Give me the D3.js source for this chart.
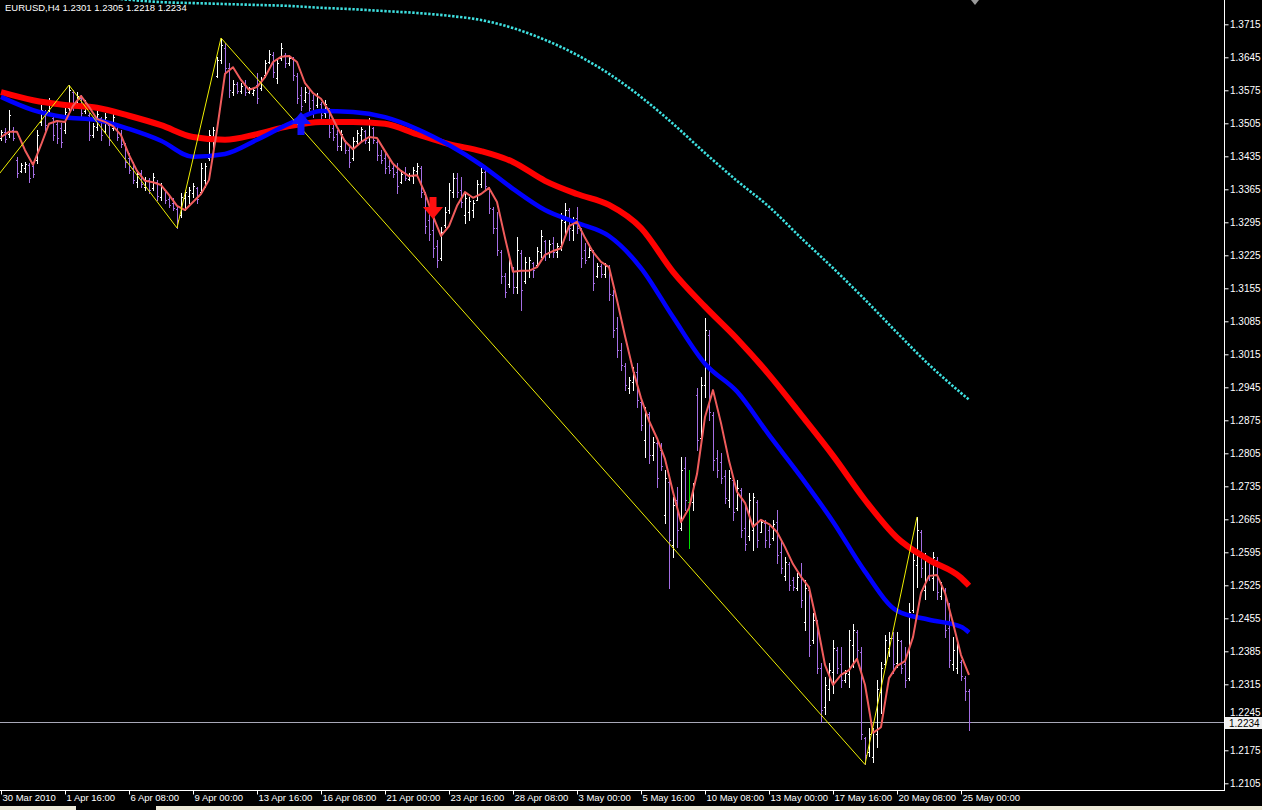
<!DOCTYPE html>
<html><head><meta charset="utf-8">
<script src="https://cdn.jsdelivr.net/npm/d3@7"></script>
<style>
html,body{margin:0;padding:0;background:#000;overflow:hidden}
svg{display:block}
text{font-family:"Liberation Sans",Arial,sans-serif;font-size:10px}
</style></head><body>
<svg id="c" width="1262" height="810"></svg>
<script>
// ---------- data ----------
const titleText = "EURUSD,H4  1.2301 1.2305 1.2218 1.2234";
const dateLabels = ["30 Mar 2010","1 Apr 16:00","6 Apr 08:00","9 Apr 00:00","13 Apr 16:00","16 Apr 08:00","21 Apr 00:00","23 Apr 16:00","28 Apr 08:00","3 May 00:00","5 May 16:00","10 May 08:00","13 May 00:00","17 May 16:00","20 May 08:00","25 May 00:00"];
const dateLabelBars = [0,16,32,48,64,80,96,112,128,144,160,176,192,208,224,240];
const priceTicks = [1.2105,1.2175,1.2245,1.2315,1.2385,1.2455,1.2525,1.2595,1.2665,1.2735,1.2805,1.2875,1.2945,1.3015,1.3085,1.3155,1.3225,1.3295,1.3365,1.3435,1.3505,1.3575,1.3645,1.3715];
const lastPrice = 1.2234;

const open = [
1.3474,1.3487,1.3482,1.3491,1.3427,1.3404,1.3410,1.3417,1.3415,1.3427,
1.3508,1.3529,1.3533,1.3516,1.3504,1.3495,1.3491,1.3538,1.3571,1.3544,
1.3559,1.3531,1.3523,1.3480,1.3497,1.3516,1.3489,1.3501,1.3495,1.3504,
1.3480,1.3459,1.3432,1.3410,1.3381,1.3400,1.3370,1.3385,1.3368,1.3381,
1.3349,1.3364,1.3345,1.3336,1.3323,1.3311,1.3347,1.3351,1.3357,1.3368,
1.3359,1.3385,1.3432,1.3470,1.3605,1.3639,1.3665,1.3622,1.3571,1.3588,
1.3574,1.3586,1.3571,1.3569,1.3586,1.3580,1.3607,1.3635,1.3650,1.3601,
1.3644,1.3650,1.3633,1.3641,1.3605,1.3565,1.3554,1.3569,1.3554,1.3544,
1.3546,1.3527,1.3538,1.3495,1.3482,1.3457,1.3468,1.3448,1.3432,1.3468,
1.3480,1.3489,1.3465,1.3495,1.3465,1.3438,1.3432,1.3415,1.3410,1.3402,
1.3381,1.3402,1.3387,1.3393,1.3404,1.3410,1.3355,1.3300,1.3279,1.3245,
1.3220,1.3290,1.3321,1.3359,1.3389,1.3364,1.3311,1.3317,1.3321,1.3342,
1.3376,1.3402,1.3368,1.3323,1.3283,1.3232,1.3181,1.3164,1.3198,1.3158,
1.3230,1.3171,1.3194,1.3209,1.3205,1.3232,1.3256,1.3232,1.3251,1.3232,
1.3245,1.3296,1.3321,1.3279,1.3304,1.3279,1.3236,1.3222,1.3232,1.3181,
1.3203,1.3186,1.3200,1.3141,1.3071,1.3025,1.2991,1.2944,1.2957,1.2978,
1.2914,1.2834,1.2889,1.2802,1.2827,1.2812,1.2675,1.2745,1.2611,1.2706,
1.2647,1.2774,1.2702,1.2702,1.2929,1.2838,1.2950,1.3056,1.2887,1.2796,
1.2787,1.2757,1.2706,1.2749,1.2690,1.2728,1.2647,1.2630,1.2643,1.2702,
1.2639,1.2658,1.2643,1.2626,1.2660,1.2596,1.2545,1.2571,1.2537,1.2520,
1.2547,1.2448,1.2516,1.2410,1.2446,1.2350,1.2266,1.2304,1.2342,1.2388,
1.2357,1.2325,1.2336,1.2399,1.2427,1.2384,1.2202,1.2172,1.2160,1.2209,
1.2299,1.2357,1.2393,1.2414,1.2361,1.2406,1.2357,1.2329,1.2473,1.2569,
1.2639,1.2516,1.2579,1.2541,1.2579,1.2503,1.2516,1.2435,1.2357,1.2350,
1.2363,1.2329,1.2301];
const high = [
1.3491,1.3495,1.3533,1.3497,1.3434,1.3421,1.3423,1.3421,1.3423,1.3491,
1.3544,1.3533,1.3559,1.3523,1.3512,1.3506,1.3540,1.3586,1.3576,1.3571,
1.3565,1.3554,1.3527,1.3506,1.3533,1.3518,1.3527,1.3506,1.3527,1.3506,
1.3491,1.3463,1.3442,1.3423,1.3406,1.3406,1.3391,1.3389,1.3400,1.3385,
1.3379,1.3364,1.3353,1.3347,1.3328,1.3357,1.3364,1.3370,1.3379,1.3370,
1.3421,1.3421,1.3491,1.3497,1.3646,1.3686,1.3675,1.3633,1.3597,1.3593,
1.3591,1.3597,1.3582,1.3580,1.3612,1.3603,1.3639,1.3660,1.3656,1.3639,
1.3675,1.3654,1.3650,1.3646,1.3612,1.3582,1.3582,1.3576,1.3565,1.3569,
1.3550,1.3554,1.3538,1.3506,1.3491,1.3491,1.3470,1.3455,1.3476,1.3491,
1.3497,1.3491,1.3516,1.3497,1.3470,1.3448,1.3442,1.3427,1.3421,1.3421,
1.3406,1.3412,1.3400,1.3412,1.3421,1.3415,1.3359,1.3315,1.3306,1.3258,
1.3285,1.3328,1.3379,1.3400,1.3400,1.3391,1.3357,1.3349,1.3342,1.3385,
1.3410,1.3406,1.3370,1.3328,1.3317,1.3236,1.3188,1.3222,1.3200,1.3264,
1.3236,1.3222,1.3222,1.3211,1.3243,1.3279,1.3258,1.3258,1.3264,1.3251,
1.3315,1.3336,1.3326,1.3306,1.3328,1.3283,1.3251,1.3243,1.3236,1.3209,
1.3207,1.3209,1.3205,1.3152,1.3094,1.3039,1.2997,1.2967,1.2989,1.2997,
1.2919,1.2904,1.2893,1.2840,1.2834,1.2827,1.2770,1.2753,1.2713,1.2734,
1.2798,1.2798,1.2770,1.2743,1.2944,1.2967,1.3092,1.3067,1.2893,1.2812,
1.2806,1.2770,1.2770,1.2753,1.2749,1.2732,1.2700,1.2721,1.2721,1.2706,
1.2664,1.2664,1.2650,1.2664,1.2685,1.2622,1.2586,1.2575,1.2543,1.2552,
1.2573,1.2537,1.2520,1.2467,1.2452,1.2361,1.2331,1.2361,1.2410,1.2395,
1.2395,1.2346,1.2431,1.2442,1.2431,1.2395,1.2204,1.2223,1.2223,1.2325,
1.2363,1.2420,1.2425,1.2425,1.2425,1.2410,1.2395,1.2488,1.2594,1.2670,
1.2643,1.2594,1.2586,1.2596,1.2584,1.2531,1.2520,1.2488,1.2416,1.2410,
1.2367,1.2333,1.2305];
const low = [
1.3470,1.3465,1.3476,1.3470,1.3391,1.3402,1.3402,1.3381,1.3391,1.3421,
1.3501,1.3491,1.3527,1.3470,1.3463,1.3455,1.3485,1.3533,1.3533,1.3540,
1.3518,1.3527,1.3470,1.3476,1.3491,1.3470,1.3485,1.3459,1.3491,1.3470,
1.3455,1.3412,1.3400,1.3379,1.3370,1.3370,1.3364,1.3357,1.3364,1.3342,
1.3342,1.3336,1.3328,1.3321,1.3283,1.3306,1.3321,1.3336,1.3349,1.3336,
1.3357,1.3370,1.3427,1.3449,1.3603,1.3633,1.3612,1.3561,1.3565,1.3569,
1.3569,1.3565,1.3569,1.3565,1.3548,1.3576,1.3603,1.3633,1.3603,1.3591,
1.3639,1.3624,1.3629,1.3597,1.3548,1.3533,1.3550,1.3527,1.3518,1.3540,
1.3512,1.3518,1.3476,1.3470,1.3448,1.3448,1.3442,1.3412,1.3427,1.3463,
1.3470,1.3463,1.3448,1.3463,1.3427,1.3421,1.3400,1.3400,1.3391,1.3357,
1.3379,1.3385,1.3385,1.3379,1.3391,1.3349,1.3273,1.3258,1.3222,1.3200,
1.3215,1.3285,1.3315,1.3349,1.3349,1.3328,1.3294,1.3300,1.3306,1.3342,
1.3370,1.3364,1.3315,1.3273,1.3226,1.3167,1.3137,1.3158,1.3145,1.3145,
1.3109,1.3167,1.3179,1.3179,1.3200,1.3222,1.3215,1.3222,1.3222,1.3222,
1.3236,1.3273,1.3258,1.3258,1.3273,1.3200,1.3209,1.3222,1.3152,1.3179,
1.3179,1.3179,1.3131,1.3052,1.3010,1.2982,1.2940,1.2933,1.2940,1.2904,
1.2855,1.2798,1.2785,1.2791,1.2734,1.2770,1.2658,1.2520,1.2586,1.2607,
1.2643,1.2685,1.2605,1.2685,1.2812,1.2834,1.2925,1.2876,1.2770,1.2755,
1.2743,1.2700,1.2692,1.2664,1.2685,1.2628,1.2600,1.2622,1.2600,1.2607,
1.2637,1.2607,1.2607,1.2622,1.2573,1.2552,1.2537,1.2516,1.2516,1.2516,
1.2480,1.2431,1.2374,1.2403,1.2340,1.2234,1.2251,1.2282,1.2297,1.2340,
1.2310,1.2319,1.2310,1.2352,1.2367,1.2198,1.2145,1.2162,1.2151,1.2183,
1.2255,1.2352,1.2374,1.2340,1.2352,1.2340,1.2310,1.2325,1.2469,1.2522,
1.2543,1.2495,1.2537,1.2516,1.2495,1.2495,1.2416,1.2352,1.2346,1.2340,
1.2325,1.2282,1.2218];
const close = [
1.3487,1.3472,1.3523,1.3474,1.3400,1.3417,1.3419,1.3389,1.3398,1.3480,
1.3533,1.3501,1.3552,1.3480,1.3474,1.3465,1.3529,1.3576,1.3542,1.3563,
1.3527,1.3548,1.3480,1.3499,1.3525,1.3480,1.3518,1.3470,1.3518,1.3476,
1.3461,1.3423,1.3406,1.3385,1.3398,1.3376,1.3385,1.3364,1.3391,1.3351,
1.3370,1.3342,1.3332,1.3326,1.3300,1.3349,1.3359,1.3364,1.3372,1.3345,
1.3410,1.3415,1.3480,1.3491,1.3639,1.3671,1.3622,1.3576,1.3588,1.3574,
1.3584,1.3571,1.3580,1.3576,1.3559,1.3597,1.3633,1.3652,1.3614,1.3633,
1.3665,1.3633,1.3644,1.3607,1.3559,1.3542,1.3571,1.3538,1.3529,1.3561,
1.3523,1.3546,1.3487,1.3476,1.3457,1.3482,1.3448,1.3423,1.3468,1.3485,
1.3493,1.3470,1.3504,1.3470,1.3438,1.3427,1.3410,1.3406,1.3398,1.3372,
1.3398,1.3389,1.3395,1.3406,1.3415,1.3359,1.3287,1.3270,1.3241,1.3215,
1.3275,1.3317,1.3364,1.3389,1.3359,1.3338,1.3347,1.3340,1.3336,1.3376,
1.3402,1.3372,1.3326,1.3283,1.3236,1.3181,1.3147,1.3209,1.3158,1.3236,
1.3152,1.3211,1.3215,1.3194,1.3234,1.3266,1.3230,1.3249,1.3232,1.3245,
1.3300,1.3321,1.3283,1.3300,1.3283,1.3220,1.3215,1.3236,1.3167,1.3203,
1.3186,1.3203,1.3143,1.3067,1.3025,1.2993,1.2950,1.2961,1.2978,1.2919,
1.2866,1.2893,1.2802,1.2829,1.2753,1.2779,1.2753,1.2622,1.2696,1.2643,
1.2770,1.2706,1.2702,1.2736,1.2834,1.2950,1.3067,1.2893,1.2791,1.2770,
1.2753,1.2711,1.2753,1.2681,1.2732,1.2643,1.2613,1.2706,1.2713,1.2622,
1.2660,1.2622,1.2613,1.2656,1.2590,1.2562,1.2575,1.2526,1.2522,1.2543,
1.2494,1.2520,1.2399,1.2452,1.2350,1.2261,1.2314,1.2346,1.2393,1.2350,
1.2325,1.2340,1.2410,1.2431,1.2388,1.2209,1.2166,1.2209,1.2215,1.2304,
1.2350,1.2410,1.2414,1.2357,1.2410,1.2350,1.2325,1.2469,1.2579,1.2643,
1.2562,1.2579,1.2547,1.2584,1.2511,1.2520,1.2431,1.2367,1.2388,1.2397,
1.2333,1.2301,1.2234];

// short moving average (salmon), one value every 2 bars
const maFast = [
1.3476,1.3487,1.3487,1.3448,1.3417,1.3459,1.3504,1.3510,1.3508,1.3542,
1.3563,1.3540,1.3514,1.3508,1.3499,1.3480,1.3438,1.3404,1.3383,1.3380,
1.3374,1.3353,1.3330,1.3321,1.3338,1.3355,1.3385,1.3491,1.3610,1.3624,
1.3597,1.3576,1.3582,1.3603,1.3635,1.3646,1.3648,1.3635,1.3590,1.3569,
1.3557,1.3531,1.3497,1.3467,1.3450,1.3465,1.3476,1.3474,1.3446,1.3419,
1.3404,1.3393,1.3395,1.3357,1.3308,1.3266,1.3287,1.3330,1.3359,1.3347,
1.3355,1.3368,1.3338,1.3262,1.3190,1.3192,1.3192,1.3200,1.3226,1.3234,
1.3240,1.3287,1.3296,1.3262,1.3232,1.3211,1.3200,1.3130,1.3054,1.2982,
1.2922,1.2874,1.2837,1.2793,1.2723,1.2659,1.2689,1.2761,1.2882,1.2939,
1.2869,1.2789,1.2723,1.2700,1.2649,1.2664,1.2655,1.2638,1.2606,1.2570,
1.2543,1.2521,1.2445,1.2356,1.2314,1.2335,1.2345,1.2369,1.2314,1.2212,
1.2224,1.2328,1.2354,1.2364,1.2415,1.2509,1.2545,1.2547,1.2509,1.2445,
1.2377,1.2335];
// long moving averages, one value every 8 bars plus the last bar
const maRed = [1.3571,1.3554,1.3544,1.3538,1.3521,1.3501,1.3476,1.3470,1.3482,1.3499,1.3508,1.3508,1.3504,1.3482,1.3461,1.3446,1.3423,1.3383,1.3355,1.3332,1.3283,1.3190,1.3116,1.3048,1.2972,1.2887,1.2800,1.2706,1.2626,1.2579,1.2541,1.2524];
const maBlue = [1.3561,1.3533,1.3518,1.3512,1.3493,1.3468,1.3434,1.3440,1.3470,1.3504,1.3531,1.3529,1.3518,1.3493,1.3459,1.3417,1.3366,1.3321,1.3294,1.3266,1.3198,1.3094,1.2995,1.2936,1.2844,1.2755,1.2660,1.2554,1.2471,1.2452,1.2437,1.2425];
const maCyan = [1.3788,1.3781,1.3777,1.3773,1.3767,1.3762,1.3760,1.3758,1.3756,1.3754,1.3750,1.3747,1.3743,1.3739,1.3733,1.3724,1.3707,1.3682,1.3650,1.3610,1.3561,1.3504,1.3442,1.3383,1.3328,1.3262,1.3198,1.3131,1.3061,1.2993,1.2933,1.2919];
const zigzagBars = [-8,17,44,55,216,229];
const zigzagPrices = [1.3316,1.3586,1.3283,1.3686,1.2145,1.2670];
const downArrowBars = [108];
const upArrowBars = [75];

// ---------- drawing ----------
const svg = d3.select("#c");
const plotR = 1224, plotB = 790;
const nBars = close.length;
const x = d3.scaleLinear().domain([0, 242]).range([1, 969]);
const y = d3.scaleLinear().domain([1.2105, 1.3715]).range([783.3, 24.3]);

svg.append("rect").attr("width",1262).attr("height",810).attr("fill","#000");
svg.append("defs").append("clipPath").attr("id","plot")
  .append("rect").attr("x",0).attr("y",0).attr("width",plotR).attr("height",plotB);
const g = svg.append("g").attr("clip-path","url(#plot)");

// bid line
g.append("line").attr("x1",0).attr("x2",plotR)
  .attr("y1",Math.round(y(lastPrice))+0.5).attr("y2",Math.round(y(lastPrice))+0.5)
  .attr("stroke","#a8a8b8").attr("stroke-width",1);

// bars
const bars = d3.range(nBars).map(i => ({i, o:open[i], h:high[i], l:low[i], c:close[i]}));
const barColor = d => d.c > d.o ? "#ffffff" : (d.c < d.o ? "#a46ee4" : "#00e000");
const bg = g.append("g");
bars.forEach(d => {
  const bx = Math.round(x(d.i));
  const col = barColor(d);
  const yh = Math.round(y(d.h)), yl = Math.round(y(d.l));
  bg.append("rect").attr("x",bx).attr("y",yh).attr("width",1).attr("height",Math.max(1,yl-yh+1)).attr("fill",col);
  bg.append("rect").attr("x",bx-1).attr("y",Math.round(y(d.o))).attr("width",1).attr("height",1).attr("fill",col);
  bg.append("rect").attr("x",bx+1).attr("y",Math.round(y(d.c))).attr("width",1).attr("height",1).attr("fill",col);
});

const maBars = d3.range(0, 241, 8).concat([242]);
const line = d3.line().x(d => x(d[0])).y(d => y(d[1]));

// cyan dotted MA
g.append("path").datum(maBars.map((b,k)=>[b, maCyan[k]]))
  .attr("d", line.curve(d3.curveMonotoneX)).attr("fill","none")
  .attr("stroke","#3ee0e0").attr("stroke-width",2.6).attr("stroke-dasharray","2.4,1.6");
// red MA
g.append("path").datum(maBars.map((b,k)=>[b, maRed[k]]))
  .attr("d", line.curve(d3.curveMonotoneX)).attr("fill","none")
  .attr("stroke","#ff0000").attr("stroke-width",6).attr("stroke-linejoin","round");
// blue MA
g.append("path").datum(maBars.map((b,k)=>[b, maBlue[k]]))
  .attr("d", line.curve(d3.curveMonotoneX)).attr("fill","none")
  .attr("stroke","#0000ff").attr("stroke-width",4.5).attr("stroke-linejoin","round");
// fast MA
const fastBars = d3.range(0, 243, 2);
g.append("path").datum(fastBars.map((b,k)=>[b, maFast[k]]))
  .attr("d", line.curve(d3.curveLinear)).attr("fill","none")
  .attr("stroke","#f05c5c").attr("stroke-width",2).attr("stroke-linejoin","round");
// zigzag
g.append("path").datum(zigzagBars.map((b,k)=>[b, zigzagPrices[k]]))
  .attr("d", line.curve(d3.curveLinear)).attr("fill","none")
  .attr("stroke","#f0f000").attr("stroke-width",1);

// arrows
downArrowBars.forEach(b => {
  const tx = x(b), ty = y(high[b]) + 2;
  g.append("path").attr("fill","#ff1010")
   .attr("d",`M${tx-3.5},${ty-22} H${tx+3.5} V${ty-12} H${tx+10} L${tx},${ty} L${tx-10},${ty-12} H${tx-3.5} Z`);
});
upArrowBars.forEach(b => {
  const tx = x(b), ty = y(low[b]) + 2;
  g.append("path").attr("fill","#1010ff")
   .attr("d",`M${tx-3.5},${ty+23} H${tx+3.5} V${ty+12} H${tx+10} L${tx},${ty} L${tx-10},${ty+12} H${tx-3.5} Z`);
});

// frame
svg.append("line").attr("x1",plotR+0.5).attr("x2",plotR+0.5).attr("y1",0).attr("y2",plotB+1).attr("stroke","#fff");
svg.append("line").attr("x1",0).attr("x2",plotR+1).attr("y1",plotB+0.5).attr("y2",plotB+0.5).attr("stroke","#fff");

// right price axis
const ay = svg.append("g").attr("transform",`translate(${plotR+0.5},0)`)
  .call(d3.axisRight(y).tickValues(priceTicks).tickFormat(d3.format(".4f")).tickSize(4).tickPadding(1.5));
ay.select(".domain").remove();
ay.selectAll("line").attr("stroke","#fff");
ay.selectAll("text").attr("fill","#fff").style("font-size","10px");
// label partly hidden by the last-price box: lift it so it only touches the box
ay.selectAll(".tick").filter(d => Math.abs(d - 1.2245) < 1e-6).select("text").attr("dy","-0.2em");

// bottom time axis
const ax = svg.append("g").attr("transform",`translate(0,${plotB+0.5})`)
  .call(d3.axisBottom(x).tickValues(dateLabelBars).tickFormat((d,i)=>dateLabels[i]).tickSize(4));
ax.select(".domain").remove();
ax.selectAll("line").attr("stroke","#fff");
ax.selectAll("text").attr("fill","#fff").attr("text-anchor","start").attr("x",1).attr("y",4).style("font-size","9.5px");

// last price box
const ly = Math.round(y(lastPrice));
svg.append("rect").attr("x",plotR+1).attr("y",ly-5).attr("width",37).attr("height",12).attr("fill","#f0f0f0");
svg.append("text").attr("x",plotR+5).attr("y",ly+5).attr("fill","#000").text(d3.format(".4f")(lastPrice));

// title
svg.append("text").attr("x",5).attr("y",11).attr("fill","#fff").style("font-size","9.5px").text(titleText);

// small marker top
svg.append("path").attr("d","M971,0 L979,0 L975,5 Z").attr("fill","#9a9a9a");

// bottom tab strip
svg.append("rect").attr("x",0).attr("y",806).attr("width",1262).attr("height",4).attr("fill","#ece9d8");
svg.append("rect").attr("x",76).attr("y",806).attr("width",80).attr("height",4).attr("fill","#000");
</script>
</body></html>
